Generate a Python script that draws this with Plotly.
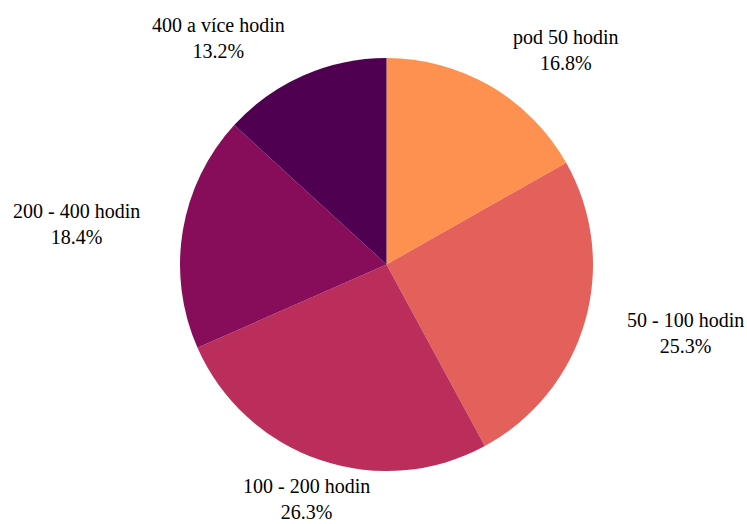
import math
import plotly.graph_objects as go

labels = ["pod 50 hodin", "50 - 100 hodin", "100 - 200 hodin", "200 - 400 hodin", "400 a více hodin"]
values = [16.8, 25.3, 26.3, 18.4, 13.2]
colors = ["#FE914F", "#E4605A", "#BB2E5B", "#870C5A", "#4F0050"]

W, H = 747, 524
ml, mr, mt, mb = 180, 154, 57, 52
pw, ph = W - ml - mr, H - mt - mb
R = min(pw, ph) / 2.0
FONT = dict(family="Liberation Serif, Times New Roman, serif", size=20, color="black")

fig = go.Figure(go.Pie(
    labels=labels,
    values=values,
    sort=False,
    direction="clockwise",
    rotation=0,
    marker=dict(colors=colors, line=dict(width=0)),
    textinfo="none",
    showlegend=False,
    hoverinfo="label+percent",
))

total = sum(values)
cum = 0.0
annotations = []
for lab, v in zip(labels, values):
    mid = (cum + v / 2.0) / total * 2 * math.pi
    cum += v
    dx, dy = math.sin(mid), math.cos(mid)
    px = 0.5 + 1.2 * R * dx / pw
    py = 0.5 + 1.2 * R * dy / ph
    if dx > 0.35:
        xa = "left"
    elif dx < -0.35:
        xa = "right"
    else:
        xa = "center"
    annotations.append(dict(
        x=px, y=py, xref="paper", yref="paper",
        text=f"{lab}<br>{v / total * 100:.1f}%",
        showarrow=False, xanchor=xa, yanchor="middle", align="center",
        font=FONT,
    ))

fig.update_layout(
    width=W, height=H,
    margin=dict(l=ml, r=mr, t=mt, b=mb),
    paper_bgcolor="white",
    plot_bgcolor="white",
    annotations=annotations,
)
fig.write_html(
    "out.html",
    config={"displayModeBar": False},
    post_script="document.body.style.margin='0';document.body.style.overflow='hidden';",
)
